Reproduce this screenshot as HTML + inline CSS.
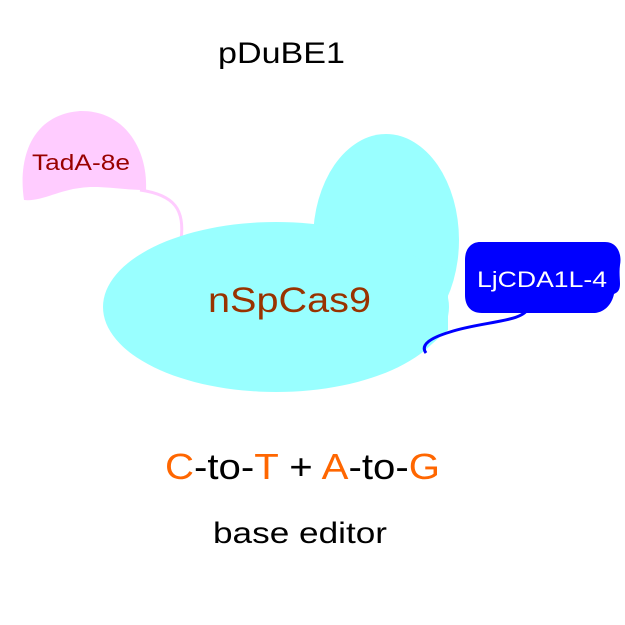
<!DOCTYPE html>
<html><head><style>body{margin:0;background:#fff;}svg{display:block}</style></head>
<body>
<svg width="625" height="625" xmlns="http://www.w3.org/2000/svg" font-family="Liberation Sans, sans-serif">
<rect width="625" height="625" fill="#fff"/>
<text x="218" y="63" font-size="30" textLength="127" lengthAdjust="spacingAndGlyphs" fill="#000">pDuBE1</text>
<path d="M140,190 C175,195 185,210 181,240" fill="none" stroke="#ffccff" stroke-width="3"/>
<path d="M24,200 C18,160 30,115 80,111 C125,110 148,150 146,190 C120,190 100,185 80,188 C60,190 40,202 24,200 Z" fill="#ffccff"/>
<text x="32" y="170" font-size="22" textLength="98" lengthAdjust="spacingAndGlyphs" fill="#990000">TadA-8e</text>
<ellipse cx="386" cy="240" rx="73" ry="106" fill="#99ffff"/>
<ellipse cx="276" cy="307" rx="173" ry="85" fill="#99ffff"/>
<path d="M430,260 L448,270 L448,330 L425,350 Z" fill="#99ffff"/>
<text x="208" y="312" font-size="35" textLength="163" lengthAdjust="spacingAndGlyphs" fill="#993300">nSpCas9</text>
<path d="M527,310 C520,322 480,322 450,332 C430,338 420,345 426,353" fill="none" stroke="#0000ff" stroke-width="3"/>
<path d="M480,242 L605,242 C618,242 622,255 620,265 C618,280 624,290 614,294 C612,304 605,312 595,313 L482,313 C470,313 465,305 465,295 L465,260 C465,248 472,242 480,242 Z" fill="#0000ff"/>
<text x="477" y="287" font-size="22" textLength="130" lengthAdjust="spacingAndGlyphs" fill="#fff">LjCDA1L-4</text>
<text x="165" y="479" font-size="36" textLength="275" lengthAdjust="spacingAndGlyphs" fill="#000"><tspan fill="#ff6600">C</tspan>-to-<tspan fill="#ff6600">T</tspan> + <tspan fill="#ff6600">A</tspan>-to-<tspan fill="#ff6600">G</tspan></text>
<text x="213" y="543" font-size="30" textLength="174" lengthAdjust="spacingAndGlyphs" fill="#000">base editor</text>
</svg>
</body></html>
